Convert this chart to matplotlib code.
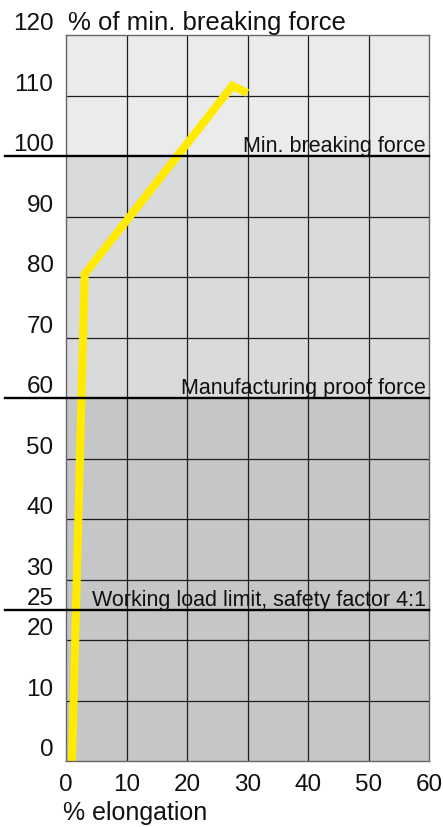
import matplotlib
matplotlib.use('Agg')
from matplotlib import pyplot as plt

plt.rcParams['font.family'] = ['Liberation Sans', 'DejaVu Sans']

# elongation curve (% elongation vs % of min. breaking force)
elongation = [1.0, 3.1, 27.5, 30.0]
force = [0, 80.5, 111.6, 110.4]

x_ticks = [0, 10, 20, 30, 40, 50, 60]
y_ticks = [0, 10, 20, 25, 30, 40, 50, 60, 70, 80, 90, 100, 110, 120]
y_grid = [10, 20, 30, 40, 50, 70, 80, 90, 110]

# shaded bands (lower, upper)
bands = [(0, 60), (60, 100), (100, 120)]
band_colors = ['#c5c6c8', '#d9dadc', '#eaebeb']

# reference lines and their captions
ref_levels = [100, 60, 25]
ref_labels = ['Min. breaking force', 'Manufacturing proof force',
              'Working load limit, safety factor 4:1']

fig = plt.figure(figsize=(4.43, 8.28), dpi=100)
ax = fig.add_axes([66 / 443, 66 / 828, 363 / 443, 726 / 828])
ax.set_xlim(0, 60)
ax.set_ylim(0, 120)

for (lo, hi), c in zip(bands, band_colors):
    ax.axhspan(lo, hi, color=c, lw=0, zorder=0)

for x in x_ticks[1:-1]:
    ax.axvline(x, color='#1e1e1e', lw=0.9, zorder=1)
for y in y_grid:
    ax.axhline(y, color='#1e1e1e', lw=0.9, zorder=1)

ytr = ax.get_yaxis_transform()
for lvl, lbl in zip(ref_levels, ref_labels):
    ax.plot([-0.168, 1.0], [lvl, lvl], color='black', lw=1.7,
            transform=ytr, clip_on=False, zorder=3)
    ax.annotate(lbl, xy=(1.0, lvl), xycoords=ytr, xytext=(-2.2, 3.6),
                textcoords='offset points', ha='right', va='baseline',
                fontsize=15.5, color='#111111', zorder=4)

ax.plot(elongation, force, color='#ffea00', lw=5.8,
        solid_joinstyle='miter', solid_capstyle='butt', zorder=2)

ax.set_xticks([])
ax.set_yticks([])
for s in ax.spines.values():
    s.set_color('#666666')
    s.set_linewidth(1.0)

for v in y_ticks:
    ax.annotate(str(v), xy=(0, v), xycoords=ytr, xytext=(-9.0, 4.3),
                textcoords='offset points', ha='right', va='baseline',
                fontsize=17.5, color='#111111')

xtr = ax.get_xaxis_transform()
for v in x_ticks:
    ax.annotate(str(v), xy=(v, 0), xycoords=xtr, xytext=(0, -9.0),
                textcoords='offset points', ha='center', va='top',
                fontsize=17.5, color='#111111')

ax.annotate('% of min. breaking force', xy=(0, 120), xycoords=ytr,
            xytext=(1.5, 4.5), textcoords='offset points',
            ha='left', va='baseline', fontsize=18.5, color='#111111')
ax.annotate('% elongation', xy=(0, 0), xycoords='axes fraction',
            xytext=(-2.2, -42), textcoords='offset points',
            ha='left', va='baseline', fontsize=18, color='#111111')

fig.savefig('out.png', dpi=100)
